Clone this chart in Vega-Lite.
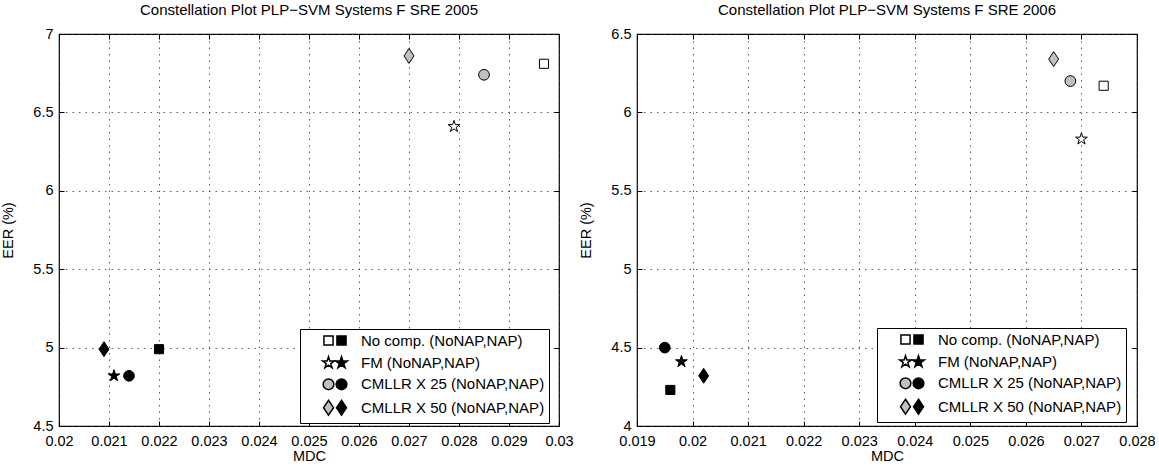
{
  "$schema": "https://vega.github.io/schema/vega-lite/v6.json",
  "padding": {"left": 0, "top": 2, "right": 0, "bottom": 0},
  "bounds": "flush",
  "spacing": 78,
  "datasets": {
    "pts": [
      {"panel": "2005", "system": "No comp. (NoNAP,NAP)", "nap": "NoNAP", "mdc": 0.0297, "eer": 6.81},
      {"panel": "2005", "system": "No comp. (NoNAP,NAP)", "nap": "NAP", "mdc": 0.0220, "eer": 4.99},
      {"panel": "2005", "system": "FM (NoNAP,NAP)", "nap": "NoNAP", "mdc": 0.0279, "eer": 6.41},
      {"panel": "2005", "system": "FM (NoNAP,NAP)", "nap": "NAP", "mdc": 0.0211, "eer": 4.82},
      {"panel": "2005", "system": "CMLLR X 25 (NoNAP,NAP)", "nap": "NoNAP", "mdc": 0.0285, "eer": 6.74},
      {"panel": "2005", "system": "CMLLR X 25 (NoNAP,NAP)", "nap": "NAP", "mdc": 0.0214, "eer": 4.82},
      {"panel": "2005", "system": "CMLLR X 50 (NoNAP,NAP)", "nap": "NoNAP", "mdc": 0.0270, "eer": 6.86},
      {"panel": "2005", "system": "CMLLR X 50 (NoNAP,NAP)", "nap": "NAP", "mdc": 0.0209, "eer": 4.99},
      {"panel": "2006", "system": "No comp. (NoNAP,NAP)", "nap": "NoNAP", "mdc": 0.0274, "eer": 6.17},
      {"panel": "2006", "system": "No comp. (NoNAP,NAP)", "nap": "NAP", "mdc": 0.0196, "eer": 4.23},
      {"panel": "2006", "system": "FM (NoNAP,NAP)", "nap": "NoNAP", "mdc": 0.0270, "eer": 5.83},
      {"panel": "2006", "system": "FM (NoNAP,NAP)", "nap": "NAP", "mdc": 0.0198, "eer": 4.41},
      {"panel": "2006", "system": "CMLLR X 25 (NoNAP,NAP)", "nap": "NoNAP", "mdc": 0.0268, "eer": 6.20},
      {"panel": "2006", "system": "CMLLR X 25 (NoNAP,NAP)", "nap": "NAP", "mdc": 0.0195, "eer": 4.50},
      {"panel": "2006", "system": "CMLLR X 50 (NoNAP,NAP)", "nap": "NoNAP", "mdc": 0.0265, "eer": 6.34},
      {"panel": "2006", "system": "CMLLR X 50 (NoNAP,NAP)", "nap": "NAP", "mdc": 0.0202, "eer": 4.32}
    ]
  },
  "config": {
    "font": "Liberation Sans",
    "view": {"stroke": "black", "strokeWidth": 1.2},
    "axis": {
      "domain": false,
      "grid": true,
      "gridColor": "#333",
      "gridDash": [1.5, 5],
      "gridWidth": 0.8,
      "ticks": true,
      "tickColor": "black",
      "tickSize": -5,
      "labelPadding": 13,
      "labelFlush": false,
      "labelFontSize": 14.5,
      "labelColor": "black",
      "titleFontSize": 14.5,
      "titleFontWeight": "normal",
      "titleColor": "black"
    },
    "title": {"fontSize": 15, "fontWeight": "normal", "color": "black", "offset": 8},
    "legend": {"labelFontSize": 15, "labelColor": "black"}
  },
  "hconcat": [
    {
      "title": "Constellation Plot PLP\u2212SVM Systems F SRE 2005",
      "width": 500,
      "height": 392,
      "data": {"name": "pts"},
      "transform": [{"filter": "datum.panel == '2005'"}],
      "encoding": {
        "x": {"field": "mdc", "type": "quantitative", "title": "MDC",
              "scale": {"domain": [0.02, 0.03], "nice": false, "zero": false},
              "axis": {"values": [0.02, 0.021, 0.022, 0.023, 0.024, 0.025, 0.026, 0.027, 0.028, 0.029, 0.03], "labelExpr": "'' + datum.value", "titlePadding": 2}},
        "y": {"field": "eer", "type": "quantitative", "title": "EER (%)",
              "scale": {"domain": [4.5, 7], "nice": false, "zero": false},
              "axis": {"values": [4.5, 5, 5.5, 6, 6.5, 7], "labelExpr": "'' + datum.value", "labelPadding": 11, "titlePadding": 17}}
      },
      "layer": [
        {
          "transform": [{"filter": "datum.nap == 'NoNAP'"}],
          "mark": {"type": "point", "filled": true, "stroke": "black", "strokeWidth": 1, "opacity": 1, "size": 115},
          "encoding": {
            "shape": {"field": "system", "type": "nominal",
              "scale": {"domain": ["No comp. (NoNAP,NAP)", "FM (NoNAP,NAP)", "CMLLR X 25 (NoNAP,NAP)", "CMLLR X 50 (NoNAP,NAP)"],
                        "range": ["M-0.85,-0.85L0.85,-0.85L0.85,0.85L-0.85,0.85Z", "M0,-1.15L0.258,-0.355L1.094,-0.355L0.417,0.136L0.676,0.93L0,0.439L-0.676,0.93L-0.417,0.136L-1.094,-0.355L-0.258,-0.355Z", "circle", "M0,-1.39L0.93,0L0,1.39L-0.93,0Z"]},
              "legend": {"orient": "none", "legendX": 241, "legendY": 295, "title": null, "strokeColor": "black", "fillColor": "white", "padding": 4, "symbolOffset": 17, "rowPadding": 4.4, "labelOffset": 25, "symbolSize": 115, "labelLimit": 400, "zindex": 1,
                         "encode": {"symbols": {"update": {"stroke": {"value": "black"}, "strokeWidth": {"value": 1}}}}}},
            "fill": {"field": "system", "type": "nominal",
              "scale": {"domain": ["No comp. (NoNAP,NAP)", "FM (NoNAP,NAP)", "CMLLR X 25 (NoNAP,NAP)", "CMLLR X 50 (NoNAP,NAP)"],
                        "range": ["white", "white", "#c0c0c0", "#c0c0c0"]},
              "legend": {"orient": "none", "legendX": 241, "legendY": 295, "title": null, "strokeColor": "black", "fillColor": "white", "padding": 4, "symbolOffset": 17, "rowPadding": 4.4, "labelOffset": 25, "symbolSize": 115, "labelLimit": 400, "zindex": 1,
                         "encode": {"symbols": {"update": {"stroke": {"value": "black"}, "strokeWidth": {"value": 1}}}}}}
          }
        },
        {
          "transform": [{"filter": "datum.nap == 'NAP'"}],
          "mark": {"type": "point", "filled": true, "fill": "black", "stroke": "black", "strokeWidth": 1, "opacity": 1, "size": 115},
          "encoding": {
            "x": {"field": "mdc", "type": "quantitative", "scale": {"domain": [0.02, 0.03], "nice": false, "zero": false},
                  "axis": {"orient": "top", "values": [0.02, 0.021, 0.022, 0.023, 0.024, 0.025, 0.026, 0.027, 0.028, 0.029, 0.03], "labels": false, "title": null, "grid": false}},
            "y": {"field": "eer", "type": "quantitative", "scale": {"domain": [4.5, 7], "nice": false, "zero": false},
                  "axis": {"orient": "right", "values": [4.5, 5, 5.5, 6, 6.5, 7], "labels": false, "title": null, "grid": false}},
            "shape": {"field": "system", "type": "nominal",
              "scale": {"domain": ["No comp. (NoNAP,NAP)", "FM (NoNAP,NAP)", "CMLLR X 25 (NoNAP,NAP)", "CMLLR X 50 (NoNAP,NAP)"],
                        "range": ["M-0.85,-0.85L0.85,-0.85L0.85,0.85L-0.85,0.85Z", "M0,-1.15L0.258,-0.355L1.094,-0.355L0.417,0.136L0.676,0.93L0,0.439L-0.676,0.93L-0.417,0.136L-1.094,-0.355L-0.258,-0.355Z", "circle", "M0,-1.39L0.93,0L0,1.39L-0.93,0Z"]},
              "legend": {"orient": "none", "legendX": 254, "legendY": 295, "title": null, "padding": 4, "symbolOffset": 17, "rowPadding": 4.4, "labelOffset": 25, "symbolSize": 115, "labelExpr": "''", "zindex": 2,
                         "encode": {"symbols": {"update": {"fill": {"value": "black"}, "stroke": {"value": "black"}, "strokeWidth": {"value": 1}}}}}}
          }
        }
      ],
      "resolve": {"scale": {"shape": "independent", "fill": "independent"}, "axis": {"x": "independent", "y": "independent"}}
    },
    {
      "title": "Constellation Plot PLP\u2212SVM Systems F SRE 2006",
      "width": 500,
      "height": 392,
      "data": {"name": "pts"},
      "transform": [{"filter": "datum.panel == '2006'"}],
      "encoding": {
        "x": {"field": "mdc", "type": "quantitative", "title": "MDC",
              "scale": {"domain": [0.019, 0.028], "nice": false, "zero": false},
              "axis": {"values": [0.019, 0.02, 0.021, 0.022, 0.023, 0.024, 0.025, 0.026, 0.027, 0.028], "labelExpr": "'' + datum.value", "titlePadding": 2}},
        "y": {"field": "eer", "type": "quantitative", "title": "EER (%)",
              "scale": {"domain": [4, 6.5], "nice": false, "zero": false},
              "axis": {"values": [4, 4.5, 5, 5.5, 6, 6.5], "labelExpr": "'' + datum.value", "labelPadding": 11, "titlePadding": 17}}
      },
      "layer": [
        {
          "transform": [{"filter": "datum.nap == 'NoNAP'"}],
          "mark": {"type": "point", "filled": true, "stroke": "black", "strokeWidth": 1, "opacity": 1, "size": 115},
          "encoding": {
            "shape": {"field": "system", "type": "nominal",
              "scale": {"domain": ["No comp. (NoNAP,NAP)", "FM (NoNAP,NAP)", "CMLLR X 25 (NoNAP,NAP)", "CMLLR X 50 (NoNAP,NAP)"],
                        "range": ["M-0.85,-0.85L0.85,-0.85L0.85,0.85L-0.85,0.85Z", "M0,-1.15L0.258,-0.355L1.094,-0.355L0.417,0.136L0.676,0.93L0,0.439L-0.676,0.93L-0.417,0.136L-1.094,-0.355L-0.258,-0.355Z", "circle", "M0,-1.39L0.93,0L0,1.39L-0.93,0Z"]},
              "legend": {"orient": "none", "legendX": 240, "legendY": 294, "title": null, "strokeColor": "black", "fillColor": "white", "padding": 4, "symbolOffset": 17, "rowPadding": 4.4, "labelOffset": 25, "symbolSize": 115, "labelLimit": 400, "zindex": 1,
                         "encode": {"symbols": {"update": {"stroke": {"value": "black"}, "strokeWidth": {"value": 1}}}}}},
            "fill": {"field": "system", "type": "nominal",
              "scale": {"domain": ["No comp. (NoNAP,NAP)", "FM (NoNAP,NAP)", "CMLLR X 25 (NoNAP,NAP)", "CMLLR X 50 (NoNAP,NAP)"],
                        "range": ["white", "white", "#c0c0c0", "#c0c0c0"]},
              "legend": {"orient": "none", "legendX": 240, "legendY": 294, "title": null, "strokeColor": "black", "fillColor": "white", "padding": 4, "symbolOffset": 17, "rowPadding": 4.4, "labelOffset": 25, "symbolSize": 115, "labelLimit": 400, "zindex": 1,
                         "encode": {"symbols": {"update": {"stroke": {"value": "black"}, "strokeWidth": {"value": 1}}}}}}
          }
        },
        {
          "transform": [{"filter": "datum.nap == 'NAP'"}],
          "mark": {"type": "point", "filled": true, "fill": "black", "stroke": "black", "strokeWidth": 1, "opacity": 1, "size": 115},
          "encoding": {
            "x": {"field": "mdc", "type": "quantitative", "scale": {"domain": [0.019, 0.028], "nice": false, "zero": false},
                  "axis": {"orient": "top", "values": [0.019, 0.02, 0.021, 0.022, 0.023, 0.024, 0.025, 0.026, 0.027, 0.028], "labels": false, "title": null, "grid": false}},
            "y": {"field": "eer", "type": "quantitative", "scale": {"domain": [4, 6.5], "nice": false, "zero": false},
                  "axis": {"orient": "right", "values": [4, 4.5, 5, 5.5, 6, 6.5], "labels": false, "title": null, "grid": false}},
            "shape": {"field": "system", "type": "nominal",
              "scale": {"domain": ["No comp. (NoNAP,NAP)", "FM (NoNAP,NAP)", "CMLLR X 25 (NoNAP,NAP)", "CMLLR X 50 (NoNAP,NAP)"],
                        "range": ["M-0.85,-0.85L0.85,-0.85L0.85,0.85L-0.85,0.85Z", "M0,-1.15L0.258,-0.355L1.094,-0.355L0.417,0.136L0.676,0.93L0,0.439L-0.676,0.93L-0.417,0.136L-1.094,-0.355L-0.258,-0.355Z", "circle", "M0,-1.39L0.93,0L0,1.39L-0.93,0Z"]},
              "legend": {"orient": "none", "legendX": 253, "legendY": 294, "title": null, "padding": 4, "symbolOffset": 17, "rowPadding": 4.4, "labelOffset": 25, "symbolSize": 115, "labelExpr": "''", "zindex": 2,
                         "encode": {"symbols": {"update": {"fill": {"value": "black"}, "stroke": {"value": "black"}, "strokeWidth": {"value": 1}}}}}}
          }
        }
      ],
      "resolve": {"scale": {"shape": "independent", "fill": "independent"}, "axis": {"x": "independent", "y": "independent"}}
    }
  ]
}
